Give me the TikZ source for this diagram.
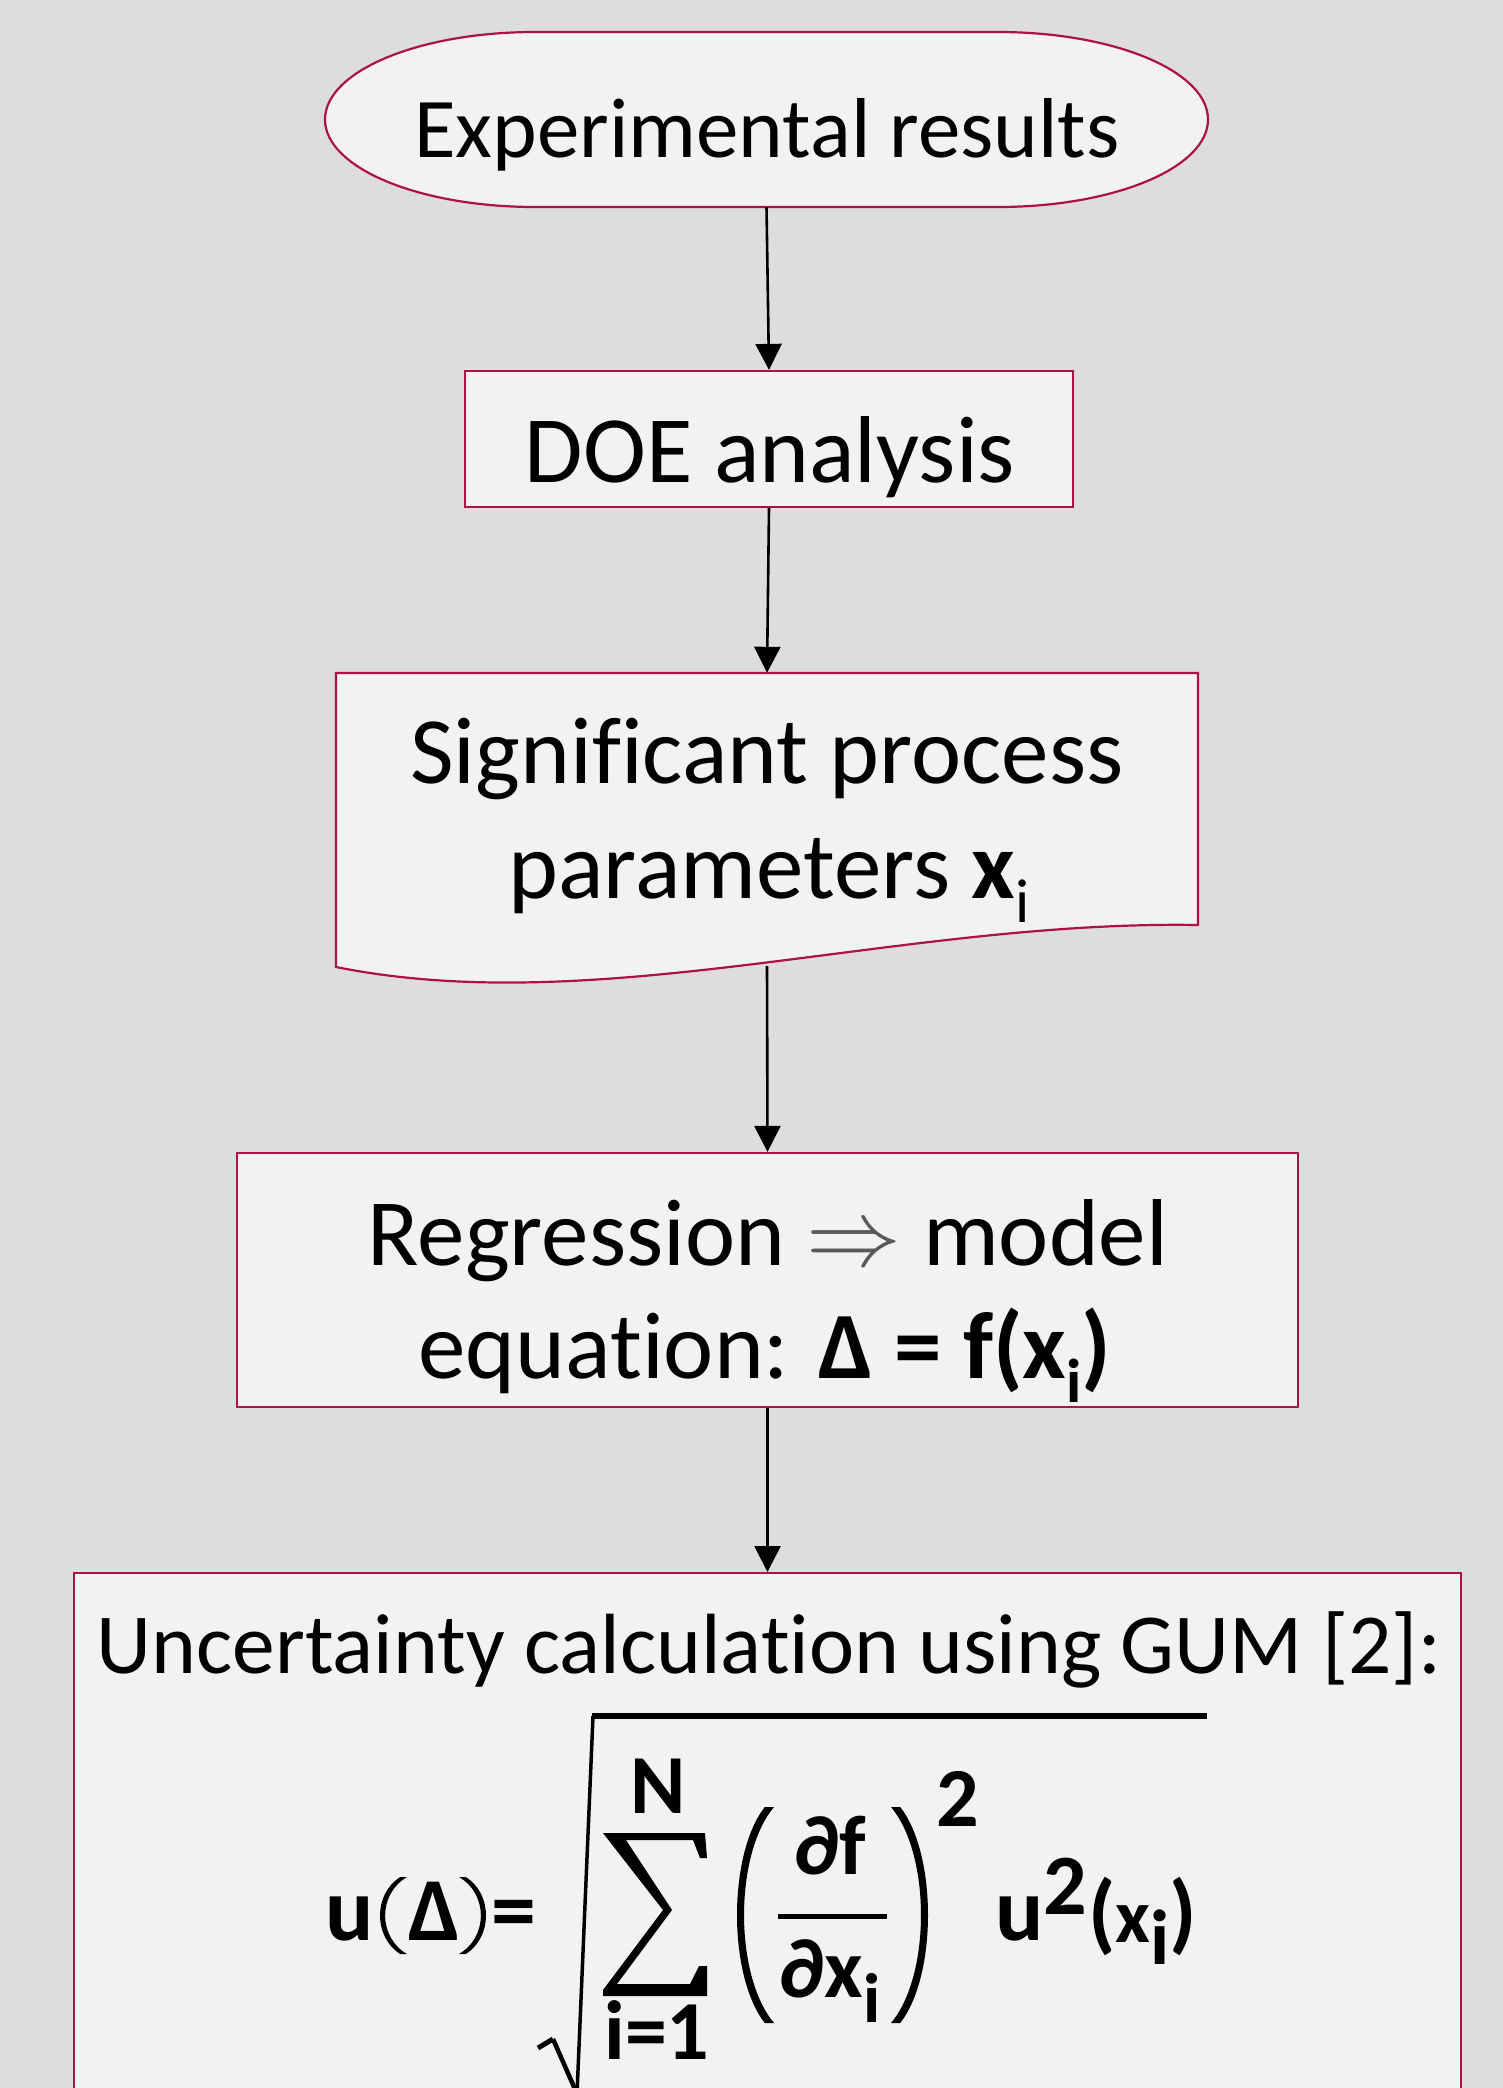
\documentclass[tikz,border=0pt]{standalone}
\usepackage{fontspec}
\setmainfont{Carlito}[Ligatures=NoCommon]
\usepackage{graphicx}
\usetikzlibrary{arrows.meta}
\definecolor{canvas}{RGB}{221,221,221}
\definecolor{panel}{RGB}{242,242,242}
\definecolor{rim}{RGB}{172,18,68}
\definecolor{implgray}{RGB}{89,89,89}
\newcommand\fsz[1]{\fontsize{#1}{#1}\selectfont}
\newcommand\lowsub[2]{\raisebox{-#1pt}{\fsz{#2}i}}
\tikzset{
  lparen/.pic={\fill (0.75,0) .. controls (-0.25,0.22) and (-0.25,0.78) .. (0.75,1)
     -- (1,1) .. controls (-0.08,0.78) and (-0.08,0.22) .. (1,0) -- cycle;}
}
\begin{document}
\begin{tikzpicture}[x=1pt,y=-1pt,
  panelbox/.style={draw=rim, fill=panel, line width=2.2pt},
  holder/.style={inner sep=0pt, draw=none},
  flow/.style={line width=2.6pt, -{Triangle[length=26pt,width=26pt]}},
  lbl/.style={inner sep=0pt, anchor=base, text=black}]
\clip (0,0) rectangle (1503,2088);
\fill[canvas] (0,0) rectangle (1503,2088);

% start terminator
\node[holder, minimum width=883pt, minimum height=175pt] (start) at (766.5,119.5) {};
\draw[panelbox] (535,32) -- (998,32)
  arc[start angle=90, end angle=-90, x radius=210pt, y radius=87.5pt]
  -- (535,207)
  arc[start angle=270, end angle=90, x radius=210pt, y radius=87.5pt] -- cycle;
\node[lbl, font=\fsz{85}] (startlbl) at (767,157) {Experimental results};

% DOE analysis
\node[panelbox, inner sep=0pt, minimum width=608pt, minimum height=136pt] (doe) at (769,439) {};
\node[lbl, font=\fsz{95}] (doelbl) at (770,482) {DOE analysis};

% document shape with parameters
\node[holder, minimum width=862pt, minimum height=294pt] (params) at (767,820) {};
\draw[panelbox] (336,673) -- (1198,673) -- (1198,925)
  .. controls (900,920) and (600,1020) .. (336,967) -- cycle;
\coordinate (paramsout) at (767,966);
\node[lbl, font=\fsz{95}] (par1) at (767,783) {Significant process};
\node[lbl, font=\fsz{95}] (par2) at (769,898) {parameters \textbf{x}\lowsub{24}{62}};

% regression
\node[panelbox, inner sep=0pt, minimum width=1061pt, minimum height=254pt] (regr) at (767.5,1280) {};
\node[lbl, font=\fsz{95}] (reg1) at (768,1265)
  {Regression {\fsz{10}\textcolor{implgray}{\scalebox{9.5}{$\Rightarrow$}}} model};
\node[lbl, font=\fsz{95}] (reg2) at (765,1378) {equation: \textbf{Δ = f(x\lowsub{24}{62})}};

% uncertainty
\node[panelbox, inner sep=0pt, minimum width=1387pt, minimum height=700pt, anchor=north] (unc) at (767.5,1572) {};
\node[lbl, font=\fsz{85.5}] (unclbl) at (769,1673) {Uncertainty calculation using GUM [2]:};

% connectors
\draw[flow] (start.south) -- (doe.north);
\draw[flow] (doe.south) -- (params.north);
\draw[flow] (paramsout) -- (regr.north);
\draw[flow] (regr.south) -- (unc.north);

% formula u(Delta) = sqrt(sum (df/dx_i)^2 u^2(x_i))
\node[lbl, font=\fsz{90}\bfseries] (fu) at (350,1940) {u};
\pic[xscale=27, yscale=77] at (380,1877) {lparen};
\pic[xscale=-27, yscale=77] at (486,1877) {lparen};
\node[lbl, font=\fsz{90}\bfseries] (fdelta) at (434,1940) {Δ};
\node[lbl, font=\fsz{90}\bfseries] (feq) at (514,1940) {=};

% radical
\draw[line width=5pt] (538,2048) -- (553,2039);
\draw[line width=4.5pt] (553,2039) -- (578,2096);
\draw[line width=3.5pt] (577,2094) -- (593,1716);
\draw[line width=5.5pt] (591.5,1716) -- (1207,1716);

% summation sign
\fill (603,1833) -- (705,1833) -- (707,1858) -- (700,1858) -- (693,1840) -- (626,1840)
  -- (672,1910) -- (617,1984) -- (690,1984) -- (699,1966) -- (707,1966) -- (707,1996)
  -- (603,1996) -- (603,1990) -- (663,1910) -- cycle;
\node[lbl, font=\fsz{84}\bfseries] (fN) at (658,1813) {N};
\node[lbl, font=\fsz{84}\bfseries] (flim) at (657,2059) {i=1};

% derivative in parentheses
\pic[xscale=37, yscale=216] at (737,1807) {lparen};
\pic[xscale=-37, yscale=216] at (928,1807) {lparen};
\node[lbl, font=\fsz{84}\bfseries] (fnum) at (830,1874) {∂f};
\draw[line width=5pt] (778,1916) -- (887,1916);
\node[lbl, font=\fsz{84}\bfseries] (fden) at (830,1997) {∂x\lowsub{25}{70}};
\node[lbl, font=\fsz{84}\bfseries] (fexp) at (958,1826) {2};

% u^2(x_i)
\node[lbl, font=\fsz{90}\bfseries] (fu2) at (1020,1940) {u};
\node[lbl, font=\fsz{86}\bfseries] (fsq) at (1065,1914) {2};
\node[lbl, anchor=base west, font=\bfseries] (farg) at (1088,1942)
  {{\fsz{88}(}{\fsz{76}x}\lowsub{22}{78}{\fsz{88})}};
\end{tikzpicture}
\end{document}
